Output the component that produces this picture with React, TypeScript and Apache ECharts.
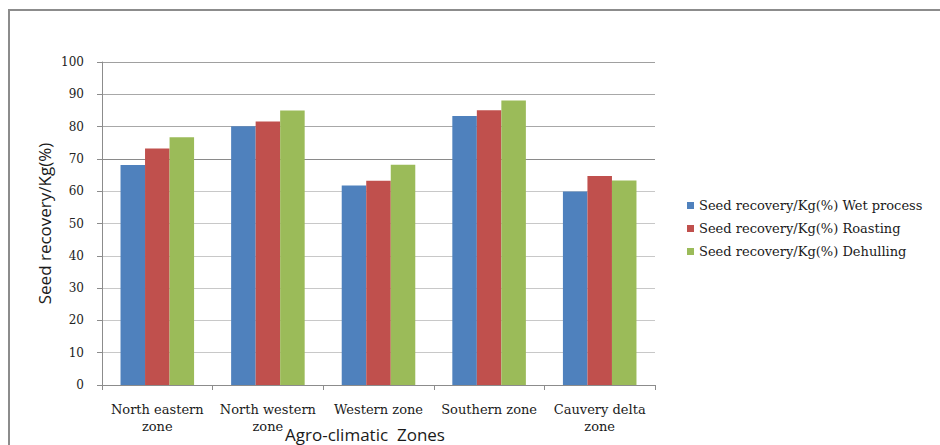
import React, { useEffect, useRef } from "react";
import * as echarts from "echarts";

const categories = [
  "North eastern\nzone",
  "North western\nzone",
  "Western zone",
  "Southern zone",
  "Cauvery delta\nzone",
];
const seriesNames = [
  "Seed recovery/Kg(%) Wet process",
  "Seed recovery/Kg(%) Roasting",
  "Seed recovery/Kg(%) Dehulling",
];
const wetProcess = [68.1, 80.1, 61.8, 83.3, 59.9];
const roasting = [73.2, 81.6, 63.2, 85.1, 64.7];
const dehulling = [76.7, 85.0, 68.2, 88.1, 63.3];
const colors = ["#4F81BD", "#C0504D", "#9BBB59"];
const yTicks = { min: 0, max: 100, interval: 10 };

const serif = "'DejaVu Serif', 'Liberation Serif', serif";
const sans = "'Open Sans', 'Liberation Sans', sans-serif";

export default function App() {
  const ref = useRef<HTMLDivElement>(null);
  useEffect(() => {
    if (!ref.current) return;
    const chart = echarts.init(ref.current, undefined, { renderer: "svg" });
    const values = [wetProcess, roasting, dehulling];
    chart.setOption({
      animation: false,
      backgroundColor: "#ffffff",
      grid: { left: 102, right: 285, top: 62, bottom: 60, containLabel: false },
      legend: {
        orient: "vertical",
        left: 682,
        top: 193,
        itemWidth: 7,
        itemHeight: 7,
        itemGap: 8,
        icon: "rect",
        textStyle: { fontFamily: serif, fontSize: 13, color: "#1a1a1a", lineHeight: 15 },
        data: seriesNames,
      },
      xAxis: {
        type: "category",
        data: categories,
        axisLine: { lineStyle: { color: "#8c8c8c", width: 1 } },
        axisTick: { show: true, length: 5, lineStyle: { color: "#8c8c8c" } },
        axisLabel: {
          fontFamily: serif,
          fontSize: 13,
          color: "#1a1a1a",
          margin: 16,
          lineHeight: 17,
          interval: 0,
        },
      },
      yAxis: {
        type: "value",
        min: yTicks.min,
        max: yTicks.max,
        interval: yTicks.interval,
        name: "Seed recovery/Kg(%)",
        nameLocation: "middle",
        nameGap: 49,
        nameMoveOverlap: false,
        nameTextStyle: { fontFamily: sans, fontSize: 17, color: "#1a1a1a" },
        axisLine: { show: true, lineStyle: { color: "#8c8c8c", width: 1 } },
        axisTick: { show: true, length: 5, lineStyle: { color: "#8c8c8c" } },
        axisLabel: { fontFamily: serif, fontSize: 12, color: "#222222", margin: 18 },
        splitLine: {
          show: true,
          lineStyle: {
            color: [
              "#c8c8c8", "#c8c8c8", "#c8c8c8", "#c8c8c8", "#c8c8c8", "#c8c8c8",
              "#c8c8c8", "#8a8a8a", "#a8a8a8", "#a8a8a8", "#a0a0a0",
            ],
            width: 1,
          },
        },
      },
      series: seriesNames.map((name, i) => ({
        name,
        type: "bar",
        data: values[i],
        barGap: "0%",
        barCategoryGap: "33.5%",
        itemStyle: { color: colors[i] },
      })),
      graphic: [
        {
          type: "rect",
          shape: { x: 9, y: 10, width: 1000, height: 500 },
          style: { fill: "none", stroke: "#8c8c8c", lineWidth: 2 },
          silent: true,
        },
        {
          type: "text",
          x: 365,
          y: 434,
          style: {
            text: "Agro-climatic  Zones",
            fontFamily: sans,
            fontSize: 17,
            fill: "#1a1a1a",
            align: "center",
            verticalAlign: "middle",
          },
        },
      ],
    });
    return () => chart.dispose();
  }, []);
  return (
    <div
      ref={ref}
      style={{ position: "absolute", left: 0, top: 0, width: 940, height: 445 }}
    />
  );
}
